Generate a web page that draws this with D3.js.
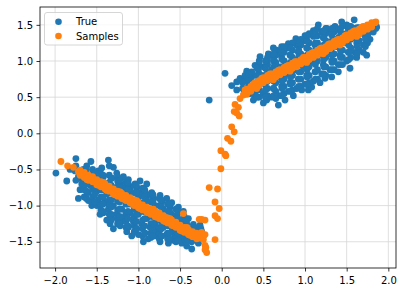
<!DOCTYPE html>
<html>
<head>
<meta charset="utf-8">
<script src="https://cdn.jsdelivr.net/npm/d3@7"></script>
<style>
  body { margin: 0; background: #fff; }
  text { font-family: "DejaVu Sans", sans-serif; }
</style>
</head>
<body>
<div id="chart"></div>
<script>
// tick values
var xTicks = [-2.0, -1.5, -1.0, -0.5, 0.0, 0.5, 1.0, 1.5, 2.0];
var yTicks = [-1.5, -1.0, -0.5, 0.0, 0.5, 1.0, 1.5];
var seriesNames = ["True", "Samples"];

// "True" points, left cluster
var trueLeft = [
  [-1.99,-0.55],[-1.86,-0.66],[-1.82,-0.5],[-1.75,-0.35],[-1.76,-0.52],[-1.72,-0.9],[-1.7,-0.78],
  [-1.69,-0.62],[-1.66,-0.5],[-1.62,-0.45],[-1.57,-0.39],[-1.6,-0.93],[-1.56,-1.0],[-1.52,-0.6],
  [-1.48,-0.52],[-1.44,-0.48],[-1.36,-0.37],[-1.3,-0.47],[-1.26,-0.55],[-1.42,-1.1],[-1.46,-1.12],
  [-1.38,-1.2],[-1.34,-1.25],[-1.3,-1.32],[-1.22,-1.28],[-1.18,-0.6],[-1.12,-0.64],[-1.04,-0.7],
  [-0.98,-0.66],[-0.9,-0.7],[-0.84,-0.82],[-0.74,-0.86],[-0.66,-0.9],[-0.6,-0.96],[-0.52,-1.02],
  [-0.46,-1.08],[-0.4,-1.18],[-0.34,-1.26],[-0.3,-1.33],[-0.26,-1.27],[-0.22,-1.42],[-0.28,-1.52],
  [-0.36,-1.6],[-0.42,-1.56],[-0.48,-1.52],[-0.58,-1.48],[-0.64,-1.52],[-0.74,-1.5],[-0.8,-1.42],
  [-0.88,-1.46],[-0.94,-1.5],[-1.0,-1.4],[-1.08,-1.42],[-1.14,-1.36],[-1.2,-1.22],
  [-1.72,-0.6],[-1.68,-0.7],
  [-1.62,-0.6],[-1.58,-0.72],[-1.6,-0.82],[-1.55,-0.5],
  [-1.52,-0.7],[-1.5,-0.8],[-1.48,-0.92],[-1.5,-1.0],[-1.46,-0.62],
  [-1.42,-0.6],[-1.4,-0.72],[-1.38,-0.84],[-1.4,-0.95],[-1.36,-1.05],[-1.42,-0.68],
  [-1.32,-0.62],[-1.3,-0.75],[-1.28,-0.88],[-1.3,-1.0],[-1.26,-1.12],[-1.32,-1.18],[-1.24,-0.7],
  [-1.22,-0.7],[-1.2,-0.8],[-1.18,-0.92],[-1.2,-1.05],[-1.16,-1.15],[-1.22,-1.2],[-1.18,-0.75],
  [-1.12,-0.72],[-1.1,-0.85],[-1.08,-0.98],[-1.1,-1.1],[-1.06,-1.22],[-1.12,-1.3],[-1.1,-0.78],
  [-1.02,-0.75],[-1.0,-0.88],[-0.98,-1.0],[-1.0,-1.12],[-0.96,-1.25],[-1.02,-1.32],[-0.98,-0.82],
  [-0.92,-0.8],[-0.9,-0.92],[-0.88,-1.05],[-0.9,-1.18],[-0.86,-1.3],[-0.92,-1.38],[-0.9,-0.85],
  [-0.82,-0.9],[-0.8,-1.0],[-0.78,-1.12],[-0.8,-1.24],[-0.76,-1.35],[-0.82,-1.3],
  [-0.72,-0.95],[-0.7,-1.05],[-0.68,-1.18],[-0.7,-1.3],[-0.66,-1.4],[-0.72,-1.42],
  [-0.62,-1.02],[-0.6,-1.12],[-0.58,-1.25],[-0.6,-1.36],[-0.56,-1.42],
  [-0.52,-1.1],[-0.5,-1.2],[-0.48,-1.32],[-0.5,-1.42],[-0.46,-1.46],
  [-0.42,-1.25],[-0.4,-1.35],[-0.38,-1.45],[-0.36,-1.5],
  [-0.32,-1.4],[-0.28,-1.45],[-0.24,-1.36],
  [-1.75,-0.45],[-1.75,-0.65],
  [-1.65,-0.55],[-1.65,-0.65],[-1.65,-0.78],[-1.65,-0.88],
  [-1.55,-0.55],[-1.55,-0.66],[-1.55,-0.77],[-1.55,-0.88],[-1.55,-0.96],
  [-1.45,-0.56],[-1.45,-0.66],[-1.45,-0.78],[-1.45,-0.88],[-1.45,-0.98],[-1.45,-1.06],
  [-1.35,-0.45],[-1.35,-0.58],[-1.35,-0.68],[-1.35,-0.8],[-1.35,-0.92],[-1.35,-1.0],[-1.35,-1.12],[-1.35,-1.2],
  [-1.25,-0.6],[-1.25,-0.66],[-1.25,-0.8],[-1.25,-0.94],[-1.25,-1.06],[-1.25,-1.18],[-1.25,-1.25],
  [-1.15,-0.68],[-1.15,-0.8],[-1.15,-0.86],[-1.15,-0.98],[-1.15,-1.1],[-1.15,-1.22],[-1.15,-1.3],
  [-1.05,-0.72],[-1.05,-0.82],[-1.05,-0.92],[-1.05,-1.05],[-1.05,-1.16],[-1.05,-1.28],[-1.05,-1.36],
  [-0.95,-0.76],[-0.95,-0.86],[-0.95,-0.96],[-0.95,-1.08],[-0.95,-1.2],[-0.95,-1.32],[-0.95,-1.42],
  [-0.85,-0.85],[-0.85,-0.95],[-0.85,-1.05],[-0.85,-1.15],[-0.85,-1.25],[-0.85,-1.38],[-0.85,-1.44],
  [-0.75,-0.9],[-0.75,-1.0],[-0.75,-1.1],[-0.75,-1.2],[-0.75,-1.3],[-0.75,-1.4],[-0.75,-1.46],
  [-0.65,-0.98],[-0.65,-1.08],[-0.65,-1.18],[-0.65,-1.28],[-0.65,-1.38],[-0.65,-1.46],
  [-0.55,-1.05],[-0.55,-1.15],[-0.55,-1.25],[-0.55,-1.35],[-0.55,-1.45],[-0.55,-1.5],
  [-0.45,-1.15],[-0.45,-1.25],[-0.45,-1.35],[-0.45,-1.45],[-0.45,-1.5],
  [-0.35,-1.32],[-0.35,-1.42],[-0.35,-1.48],
  [-0.25,-1.32],[-0.25,-1.45],
  [-1.625,-0.5],[-1.625,-0.6],[-1.625,-0.7],[-1.625,-0.8],[-1.625,-0.9],
  [-1.525,-0.55],[-1.525,-0.65],[-1.525,-0.75],[-1.525,-0.85],[-1.525,-0.95],
  [-1.425,-0.58],[-1.425,-0.68],[-1.425,-0.78],[-1.425,-0.88],[-1.425,-0.98],[-1.425,-1.08],
  [-1.325,-0.62],[-1.325,-0.72],[-1.325,-0.82],[-1.325,-0.92],[-1.325,-1.02],[-1.325,-1.12],[-1.325,-1.2],
  [-1.225,-0.65],[-1.225,-0.75],[-1.225,-0.85],[-1.225,-0.95],[-1.225,-1.05],[-1.225,-1.15],[-1.225,-1.25],
  [-1.125,-0.68],[-1.125,-0.78],[-1.125,-0.88],[-1.125,-0.98],[-1.125,-1.08],[-1.125,-1.18],[-1.125,-1.28],
  [-1.025,-0.72],[-1.025,-0.82],[-1.025,-0.92],[-1.025,-1.02],[-1.025,-1.12],[-1.025,-1.22],[-1.025,-1.32],
  [-0.925,-0.78],[-0.925,-0.88],[-0.925,-0.98],[-0.925,-1.08],[-0.925,-1.18],[-0.925,-1.28],[-0.925,-1.38],
  [-0.825,-0.85],[-0.825,-0.95],[-0.825,-1.05],[-0.825,-1.15],[-0.825,-1.25],[-0.825,-1.35],[-0.825,-1.42],
  [-0.725,-0.92],[-0.725,-1.02],[-0.725,-1.12],[-0.725,-1.22],[-0.725,-1.32],[-0.725,-1.42],
  [-0.625,-0.98],[-0.625,-1.08],[-0.625,-1.18],[-0.625,-1.28],[-0.625,-1.38],[-0.625,-1.46],
  [-0.525,-1.08],[-0.525,-1.18],[-0.525,-1.28],[-0.525,-1.38],[-0.525,-1.48],
  [-0.425,-1.2],[-0.425,-1.3],[-0.425,-1.4],[-0.425,-1.5],
  [-0.325,-1.3],[-0.325,-1.38],[-0.325,-1.46]
];

// "True" points, right cluster
var trueRight = [
  [-0.15,0.46],[0.04,0.83],[0.18,0.71],[0.18,0.6],[0.12,0.66],[0.22,0.76],[0.27,0.55],[0.28,0.78],
  [0.3,0.86],[0.36,0.85],[0.38,0.46],[0.4,0.94],[0.46,1.06],[0.5,0.42],[0.54,0.46],[0.56,1.1],
  [0.62,1.18],[0.68,0.39],[0.66,1.15],[0.72,1.2],[0.76,0.46],[0.8,1.24],[0.86,0.52],[0.89,1.31],
  [0.94,1.28],[0.96,0.6],[1.0,1.35],[1.04,0.6],[1.08,0.64],[1.1,1.42],[1.16,1.5],[1.18,0.7],
  [1.24,0.76],[1.26,1.45],[1.32,0.78],[1.36,1.48],[1.4,0.85],[1.44,1.54],[1.5,1.5],[1.54,0.9],
  [1.59,1.57],[1.62,1.05],[1.66,1.45],[1.7,1.12],[1.74,1.08],[1.78,1.3],[1.86,1.47],[1.82,1.4],
  [0.3,0.72],[0.32,0.64],[0.28,0.8],
  [0.4,0.55],[0.42,0.7],[0.38,0.8],[0.44,0.88],[0.4,0.5],
  [0.5,0.55],[0.52,0.68],[0.48,0.8],[0.5,0.92],[0.54,1.0],
  [0.6,0.5],[0.62,0.62],[0.58,0.75],[0.6,0.88],[0.62,1.0],[0.58,1.08],
  [0.7,0.52],[0.72,0.65],[0.68,0.78],[0.7,0.92],[0.72,1.05],[0.7,1.12],
  [0.8,0.58],[0.82,0.7],[0.78,0.82],[0.8,0.95],[0.82,1.08],[0.8,1.18],
  [0.9,0.62],[0.92,0.75],[0.88,0.88],[0.9,1.0],[0.92,1.12],[0.9,1.22],
  [1.0,0.68],[1.02,0.8],[0.98,0.92],[1.0,1.05],[1.02,1.18],[1.0,1.28],
  [1.1,0.72],[1.12,0.85],[1.08,0.98],[1.1,1.1],[1.12,1.22],[1.1,1.34],
  [1.2,0.82],[1.22,0.95],[1.18,1.08],[1.2,1.2],[1.22,1.32],[1.2,1.4],
  [1.3,0.88],[1.32,1.0],[1.28,1.12],[1.3,1.25],[1.32,1.36],[1.3,1.42],
  [1.4,0.95],[1.42,1.08],[1.38,1.2],[1.4,1.32],[1.42,1.42],
  [1.5,1.0],[1.52,1.12],[1.48,1.25],[1.5,1.38],[1.52,1.45],
  [1.6,1.12],[1.62,1.25],[1.58,1.35],[1.6,1.45],
  [1.7,1.22],[1.72,1.35],[1.68,1.42],
  [1.8,1.45],[1.76,1.38],
  [0.25,0.62],[0.25,0.7],
  [0.35,0.55],[0.35,0.65],[0.35,0.75],
  [0.45,0.5],[0.45,0.6],[0.45,0.72],[0.45,0.82],[0.45,0.95],[0.45,1.0],
  [0.55,0.52],[0.55,0.62],[0.55,0.72],[0.55,0.85],[0.55,0.95],[0.55,1.05],
  [0.65,0.48],[0.65,0.58],[0.65,0.7],[0.65,0.85],[0.65,0.98],[0.65,1.08],
  [0.75,0.55],[0.75,0.65],[0.75,0.75],[0.75,0.88],[0.75,1.0],[0.75,1.12],[0.75,1.2],
  [0.85,0.6],[0.85,0.7],[0.85,0.8],[0.85,0.92],[0.85,1.05],[0.85,1.15],[0.85,1.25],
  [0.95,0.65],[0.95,0.75],[0.95,0.85],[0.95,0.98],[0.95,1.1],[0.95,1.22],[0.95,1.3],
  [1.05,0.7],[1.05,0.8],[1.05,0.92],[1.05,1.02],[1.05,1.15],[1.05,1.25],[1.05,1.38],
  [1.15,0.75],[1.15,0.88],[1.15,1.0],[1.15,1.12],[1.15,1.25],[1.15,1.35],[1.15,1.45],
  [1.25,0.8],[1.25,0.92],[1.25,1.05],[1.25,1.15],[1.25,1.28],[1.25,1.38],[1.25,1.45],
  [1.35,0.88],[1.35,1.0],[1.35,1.1],[1.35,1.2],[1.35,1.3],[1.35,1.4],[1.35,1.46],
  [1.45,0.95],[1.45,1.05],[1.45,1.15],[1.45,1.28],[1.45,1.38],[1.45,1.48],
  [1.55,1.05],[1.55,1.18],[1.55,1.3],[1.55,1.4],[1.55,1.48],
  [1.65,1.15],[1.65,1.28],[1.65,1.38],[1.65,1.46],
  [1.75,1.25],[1.75,1.35],[1.75,1.42],
  [1.85,1.45],[1.85,1.5],
  [0.325,0.55],[0.325,0.65],[0.325,0.75],[0.325,0.82],
  [0.425,0.5],[0.425,0.6],[0.425,0.7],[0.425,0.8],[0.425,0.9],
  [0.525,0.5],[0.525,0.6],[0.525,0.7],[0.525,0.8],[0.525,0.9],[0.525,1.0],
  [0.625,0.52],[0.625,0.62],[0.625,0.72],[0.625,0.82],[0.625,0.92],[0.625,1.02],[0.625,1.1],
  [0.725,0.52],[0.725,0.62],[0.725,0.72],[0.725,0.82],[0.725,0.92],[0.725,1.02],[0.725,1.12],
  [0.825,0.58],[0.825,0.68],[0.825,0.78],[0.825,0.88],[0.825,0.98],[0.825,1.08],[0.825,1.18],
  [0.925,0.65],[0.925,0.75],[0.925,0.85],[0.925,0.95],[0.925,1.05],[0.925,1.15],[0.925,1.25],
  [1.025,0.68],[1.025,0.78],[1.025,0.88],[1.025,0.98],[1.025,1.08],[1.025,1.18],[1.025,1.28],[1.025,1.35],
  [1.125,0.75],[1.125,0.85],[1.125,0.95],[1.125,1.05],[1.125,1.15],[1.125,1.25],[1.125,1.35],[1.125,1.42],
  [1.225,0.82],[1.225,0.92],[1.225,1.02],[1.225,1.12],[1.225,1.22],[1.225,1.32],[1.225,1.42],
  [1.325,0.88],[1.325,0.98],[1.325,1.08],[1.325,1.18],[1.325,1.28],[1.325,1.38],[1.325,1.45],
  [1.425,0.95],[1.425,1.05],[1.425,1.15],[1.425,1.25],[1.425,1.35],[1.425,1.45],
  [1.525,1.02],[1.525,1.12],[1.525,1.22],[1.525,1.32],[1.525,1.42],[1.525,1.48],
  [1.625,1.1],[1.625,1.2],[1.625,1.3],[1.625,1.4],[1.625,1.46],
  [1.725,1.2],[1.725,1.3],[1.725,1.4],[1.725,1.45]
];

// "Samples" points, left band
var samplesLeft = [
  [-1.93,-0.39],[-1.85,-0.45],[-1.78,-0.47],[-1.72,-0.53],[-1.66,-0.57],[-1.6,-0.61],[-1.55,-0.64],
  [-1.5,-0.67],[-1.45,-0.7],[-1.4,-0.74],[-1.35,-0.77],[-1.3,-0.8],[-1.25,-0.83],[-1.2,-0.86],
  [-1.15,-0.9],[-1.1,-0.93],[-1.05,-0.96],[-1.0,-0.99],[-0.95,-1.02],[-0.9,-1.05],[-0.85,-1.08],
  [-0.8,-1.11],[-0.75,-1.14],[-0.7,-1.17],[-0.65,-1.2],[-0.6,-1.24],[-0.55,-1.27],[-0.5,-1.3],
  [-0.45,-1.33],[-0.4,-1.36],[-0.35,-1.39],[-0.3,-1.42],
  [-1.62,-0.64],[-1.48,-0.72],[-1.38,-0.79],[-1.28,-0.85],[-1.18,-0.91],[-1.08,-0.97],[-0.98,-1.04],
  [-0.88,-1.1],[-0.78,-1.16],[-0.68,-1.22],[-0.58,-1.28],[-0.48,-1.35],[-0.38,-1.41],
  [-1.42,-0.68],[-1.22,-0.81],[-1.02,-0.93],[-0.82,-1.05],[-0.62,-1.18],[-0.42,-1.3],
  [-0.26,-1.4],[-0.25,-1.44],[-0.22,-1.47],
  [-1.7,-0.51],[-1.65,-0.54],[-1.6,-0.58],[-1.55,-0.6],[-1.5,-0.64],[-1.45,-0.67],[-1.4,-0.7],
  [-1.35,-0.73],[-1.3,-0.77],[-1.25,-0.8],[-1.2,-0.83],[-1.15,-0.86],[-1.1,-0.89],[-1.05,-0.92],
  [-1.0,-0.96],[-0.95,-0.99],[-0.9,-1.02],[-0.85,-1.05],[-0.8,-1.08],[-0.75,-1.1],[-0.7,-1.14],
  [-0.65,-1.17],[-0.6,-1.2],[-0.55,-1.23],[-0.5,-1.27],[-0.45,-1.3],[-0.4,-1.33],[-0.35,-1.36],
  [-0.3,-1.38],
  [-1.7,-0.58],[-1.65,-0.61],[-1.6,-0.65],[-1.55,-0.67],[-1.5,-0.71],[-1.45,-0.74],[-1.4,-0.77],
  [-1.35,-0.8],[-1.3,-0.84],[-1.25,-0.87],[-1.2,-0.9],[-1.15,-0.93],[-1.1,-0.96],[-1.05,-1.0],
  [-1.0,-1.03],[-0.95,-1.06],[-0.9,-1.09],[-0.85,-1.12],[-0.8,-1.15],[-0.75,-1.18],[-0.7,-1.21],
  [-0.65,-1.24],[-0.6,-1.27],[-0.55,-1.3],[-0.5,-1.34],[-0.45,-1.37],[-0.4,-1.4],[-0.35,-1.43],
  [-0.3,-1.46]
];

// "Samples" points, right band
var samplesRight = [
  [0.22,0.48],[0.26,0.53],[0.3,0.58],[0.35,0.62],[0.4,0.66],[0.45,0.7],[0.5,0.73],[0.55,0.76],
  [0.6,0.78],[0.65,0.81],[0.7,0.84],[0.75,0.87],[0.8,0.9],[0.85,0.93],[0.9,0.96],[0.95,0.99],
  [1.0,1.02],[1.05,1.05],[1.1,1.08],[1.15,1.11],[1.2,1.14],[1.25,1.17],[1.3,1.2],[1.35,1.23],
  [1.4,1.26],[1.45,1.29],[1.5,1.32],[1.55,1.35],[1.6,1.38],[1.65,1.41],[1.7,1.44],[1.75,1.47],
  [1.8,1.5],[1.84,1.53],
  [0.28,0.6],[0.38,0.68],[0.48,0.76],[0.58,0.82],[0.68,0.87],[0.78,0.93],[0.88,0.99],[0.98,1.05],
  [1.08,1.11],[1.18,1.17],[1.28,1.23],[1.38,1.29],[1.48,1.35],[1.58,1.41],[1.68,1.47],
  [0.42,0.62],[0.62,0.74],[0.82,0.86],[1.02,0.98],[1.22,1.1],[1.42,1.22],[1.62,1.34],
  [0.3,0.61],[0.35,0.65],[0.4,0.7],[0.45,0.73],[0.5,0.77],[0.55,0.8],[0.6,0.82],[0.65,0.85],
  [0.7,0.88],[0.75,0.91],[0.8,0.94],[0.85,0.97],[0.9,0.99],[0.95,1.02],[1.0,1.05],[1.05,1.09],
  [1.1,1.12],[1.15,1.15],[1.2,1.18],[1.25,1.2],[1.3,1.24],[1.35,1.27],[1.4,1.3],[1.45,1.32],
  [1.5,1.36],[1.55,1.39],[1.6,1.42],[1.65,1.44],[1.7,1.48],[1.75,1.5],[1.8,1.53],
  [0.3,0.54],[0.35,0.58],[0.4,0.63],[0.45,0.66],[0.5,0.7],[0.55,0.73],[0.6,0.75],[0.65,0.78],
  [0.7,0.81],[0.75,0.84],[0.8,0.87],[0.85,0.9],[0.9,0.92],[0.95,0.96],[1.0,0.99],[1.05,1.02],
  [1.1,1.05],[1.15,1.08],[1.2,1.11],[1.25,1.13],[1.3,1.17],[1.35,1.2],[1.4,1.23],[1.45,1.25],
  [1.5,1.29],[1.55,1.32],[1.6,1.35],[1.65,1.37],[1.7,1.41],[1.75,1.44],[1.8,1.47],[1.85,1.54]
];

// "Samples" points between the two bands
var samplesMid = [
  [0.16,0.4],[0.2,0.36],[0.18,0.28],[0.21,0.24],[0.15,0.3],[0.12,0.09],[0.15,0.02],[0.07,-0.07],
  [0.11,-0.11],[-0.01,-0.24],[0.05,-0.31],[0.04,-0.29],[-0.01,-0.49],[-0.15,-0.75],[-0.05,-0.77],
  [-0.08,-0.95],[-0.03,-1.04],[-0.08,-1.14],[-0.05,-1.18],[-0.2,-1.2],[-0.24,-1.19],[-0.27,-1.19],
  [-0.46,-1.11],[-0.24,-1.37],[-0.2,-1.4],[-0.08,-1.47],[-0.2,-1.55],[-0.19,-1.58],[-0.2,-1.61],
  [-0.18,-1.65],[-0.26,-1.45]
];

var trueData = trueLeft.concat(trueRight);
var samplesData = samplesLeft.concat(samplesMid, samplesRight);

var colors = ["#1f77b4", "#ff7f0e"];

//setup
var chart_width = 403, chart_height = 292;
var plotLeft = 40, plotRight = 396, plotTop = 7, plotBottom = 268;

var x = d3.scaleLinear().domain([-2.181, 2.092]).range([plotLeft, plotRight]);
var y = d3.scaleLinear().domain([-1.863, 1.747]).range([plotBottom, plotTop]);

var svg = d3.select("#chart")
  .append("svg")
  .attr("width", chart_width)
  .attr("height", chart_height);

//grid
svg.append("g")
  .selectAll("line")
  .data(xTicks)
  .enter()
  .append("line")
  .attr("x1", function(d) { return x(d); })
  .attr("x2", function(d) { return x(d); })
  .attr("y1", plotTop)
  .attr("y2", plotBottom)
  .attr("stroke", "#d7d7d7")
  .attr("stroke-width", 0.8);

svg.append("g")
  .selectAll("line")
  .data(yTicks)
  .enter()
  .append("line")
  .attr("y1", function(d) { return y(d); })
  .attr("y2", function(d) { return y(d); })
  .attr("x1", plotLeft)
  .attr("x2", plotRight)
  .attr("stroke", "#d7d7d7")
  .attr("stroke-width", 0.8);

//points
svg.append("g")
  .selectAll("circle")
  .data(trueData)
  .enter()
  .append("circle")
  .attr("cx", function(d) { return x(d[0]); })
  .attr("cy", function(d) { return y(d[1]); })
  .attr("r", 3.4)
  .attr("fill", colors[0]);

svg.append("g")
  .selectAll("circle")
  .data(samplesData)
  .enter()
  .append("circle")
  .attr("cx", function(d) { return x(d[0]); })
  .attr("cy", function(d) { return y(d[1]); })
  .attr("r", 3.4)
  .attr("fill", colors[1]);

//axes
var fmt = d3.format(".1f");

var xAxis = svg.append("g")
  .attr("transform", "translate(0," + plotBottom + ")")
  .call(d3.axisBottom(x).tickValues(xTicks).tickFormat(fmt).tickSize(3.5).tickPadding(5).tickSizeOuter(0));

var yAxis = svg.append("g")
  .attr("transform", "translate(" + plotLeft + ",0)")
  .call(d3.axisLeft(y).tickValues(yTicks).tickFormat(fmt).tickSize(3.5).tickPadding(3.5).tickSizeOuter(0));

[xAxis, yAxis].forEach(function(g) {
  g.select(".domain").remove();
  g.selectAll(".tick line").attr("stroke", "#000").attr("stroke-width", 0.8);
  g.selectAll(".tick text")
    .attr("fill", "#000")
    .style("font-size", "10px")
    .style("font-family", "'DejaVu Sans', sans-serif");
});

//frame
svg.append("rect")
  .attr("x", plotLeft)
  .attr("y", plotTop)
  .attr("width", plotRight - plotLeft)
  .attr("height", plotBottom - plotTop)
  .attr("fill", "none")
  .attr("stroke", "#000")
  .attr("stroke-width", 0.8);

//legend
var legend = svg.append("g");

legend.append("rect")
  .attr("x", 44.5)
  .attr("y", 12.5)
  .attr("width", 78)
  .attr("height", 32.5)
  .attr("rx", 2.5)
  .attr("fill", "#fff")
  .attr("fill-opacity", 0.8)
  .attr("stroke", "#cccccc")
  .attr("stroke-width", 0.8);

var items = legend.selectAll("g.item")
  .data(seriesNames)
  .enter()
  .append("g")
  .attr("class", "item")
  .attr("transform", function(d, i) { return "translate(58.5," + (21.7 + i * 14.3) + ")"; });

items.append("circle")
  .attr("r", 3.3)
  .attr("fill", function(d, i) { return colors[i]; });

items.append("text")
  .attr("x", 17.5)
  .attr("y", 3.6)
  .style("font-size", "10px")
  .attr("fill", "#000")
  .text(function(d) { return d; });
</script>
</body>
</html>
